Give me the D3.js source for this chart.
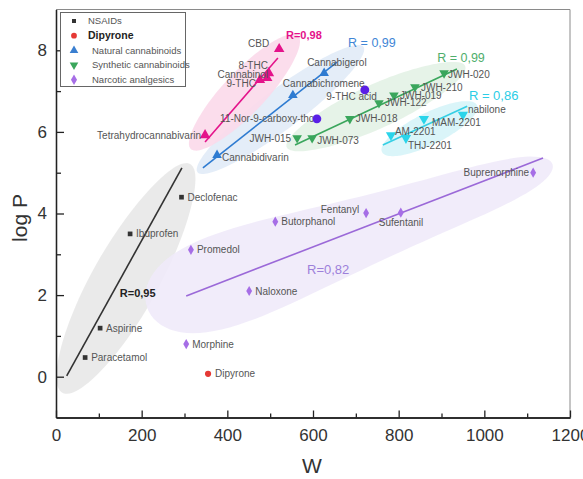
<!DOCTYPE html>
<html lang="en">
<head>
<meta charset="utf-8">
<title>log P vs W</title>
<script src="https://cdn.jsdelivr.net/npm/d3@7"></script>
<style>
  body { margin: 0; background: #fff; }
  svg text { font-family: "Liberation Sans", Arial, sans-serif; }
  .axis path, .axis line { stroke: #222; stroke-width: 1.3; }
  .axis text { font-size: 17px; fill: #333; }
  .lbl { font-size: 10px; fill: #555; }
</style>
</head>
<body>
<div id="chart"></div>
<script>
// ---- data ----
var nsaidNames = ["Paracetamol", "Aspirine", "Ibuprofen", "Declofenac"];
var nsaidW     = [68, 103, 173, 293];
var nsaidLogP  = [0.47, 1.19, 3.5, 4.40];

var dipyroneNames = ["Dipyrone"];
var dipyroneW     = [355];
var dipyroneLogP  = [0.07];

var narcNames = ["Morphine", "Naloxone", "Promedol", "Butorphanol", "Fentanyl", "Sufentanil", "Buprenorphine"];
var narcW     = [304, 451, 315, 512, 724, 805, 1114];
var narcLogP  = [0.80, 2.10, 3.11, 3.80, 4.01, 4.02, 5.0];

var pinkNames = ["Tetrahydrocannabivarin", "9-THC", "Cannabinol", "8-THC", "CBD"];
var pinkW     = [348, 476, 493, 497, 521];
var pinkLogP  = [5.92, 7.27, 7.32, 7.44, 8.03];

var natNames = ["Cannabidivarin", "Cannabichromene", "Cannabigerol"];
var natW     = [376, 553, 626];
var natLogP  = [5.43, 6.9, 7.44];

var acidNames = ["11-Nor-9-carboxy-thc", "9-THC acid"];
var acidW     = [609, 721];
var acidLogP  = [6.32, 7.03];

var synNames = ["JWH-015", "JWH-073", "JWH-018", "JWH-122", "JWH-019", "JWH-210", "JWH-020"];
var synW     = [563, 598, 686, 754, 789, 838, 906];
var synLogP  = [5.85, 5.85, 6.32, 6.71, 6.90, 7.10, 7.44];

var cyanNames = ["AM-2201", "THJ-2201", "MAM-2201", "nabilone"];
var cyanW     = [782, 817, 859, 950];
var cyanLogP  = [5.92, 5.85, 6.32, 6.42];

// fitted lines: start / end (W, logP) and R
var fitKeys = ["nsaid", "narc", "pink", "nat", "syn", "cyan"];
var fitW0   = [25, 304, 348, 343, 558, 763];
var fitP0   = [0.02, 1.98, 5.75, 5.12, 5.68, 5.68];
var fitW1   = [294, 1137, 518, 656, 936, 960];
var fitP1   = [5.12, 5.36, 7.81, 7.71, 7.54, 6.63];
var fitR    = ["R=0,95", "R=0,82", "R=0,98", "R = 0,99", "R = 0,99", "R = 0,86"];

var legendNames = ["NSAIDs", "Dipyrone", "Natural cannabinoids", "Synthetic cannabinoids", "Narcotic analgesics"];

var xTicks = [0, 200, 400, 600, 800, 1000, 1200];
var xMinor = [100, 300, 500, 700, 900, 1100];
var yTicks = [0, 2, 4, 6, 8];
var yMinor = [1, 3, 5, 7];

// ---- layout ----
var w = 583, h = 479;
var svg = d3.select("#chart").append("svg").attr("width", w).attr("height", h);

var xScale = d3.scaleLinear().domain([0, 1200]).range([56, 570]);
var yScale = d3.scaleLinear().domain([-1, 9]).range([417.5, 9.5]);

var groups = {
  nsaid: {names: nsaidNames, w: nsaidW, p: nsaidLogP, sym: d3.symbolSquare, size: 22, color: "#333", line: "#333", rColor: "#222", rSize: 11, rWeight: "bold", blob: "#e8e8e8"},
  dip:   {names: dipyroneNames, w: dipyroneW, p: dipyroneLogP, sym: d3.symbolCircle, size: 30, color: "#e53935"},
  narc:  {names: narcNames, w: narcW, p: narcLogP, sym: d3.symbolDiamond, size: 30, color: "#a66ee6", line: "#9b69d8", rColor: "#9d80da", rSize: 13, rWeight: "normal", blob: "#efeafa"},
  pink:  {names: pinkNames, w: pinkW, p: pinkLogP, sym: d3.symbolTriangle, size: 48, color: "#e4138a", line: "#e4138a", rColor: "#e4138a", rSize: 11, rWeight: "bold", blob: "#fbd9ea"},
  nat:   {names: natNames, w: natW, p: natLogP, sym: d3.symbolTriangle, size: 40, color: "#2e7bd1", line: "#2e7bd1", rColor: "#3f86d6", rSize: 12.5, rWeight: "normal", blob: "#e1ebf7"},
  acid:  {names: acidNames, w: acidW, p: acidLogP, sym: d3.symbolCircle, size: 62, color: "#5a1fe6"},
  syn:   {names: synNames, w: synW, p: synLogP, sym: d3.symbolTriangle, size: 40, color: "#3aa65c", line: "#3aa65c", down: true, rColor: "#4fae6c", rSize: 12.5, rWeight: "normal", blob: "#e3f2e6"},
  cyan:  {names: cyanNames, w: cyanW, p: cyanLogP, sym: d3.symbolTriangle, size: 45, color: "#2ad4ea", line: "#35cfe4", down: true, rColor: "#2ccde6", rSize: 13, rWeight: "normal", blob: "#d6f4f8"}
};

// highlight blobs: centre (W, logP), angle deg, half length px, half widths (left, mid, right) px
var blobs = {
  nsaid: [164, 2.41, -60.8, 131, 32, 33, 30],
  narc:  [686, 3.45, -19.5, 215, 83, 36, 38],
  pink:  [440, 6.97, -46.6, 78, 20, 21, 20],
  nat:   [524, 6.55, -37.1, 104, 19, 20, 19],
  syn:   [747, 6.62, -24.5, 98, 20, 22, 20],
  cyan:  [872, 6.08, -26.3, 53, 16, 16, 16]
};
var blobOrder = ["nsaid", "narc", "nat", "syn", "cyan", "pink"];

// R label anchor (W, logP)
var rLabelAt = {
  nsaid: [149, 2.05], narc: [586, 2.62], pink: [537, 8.37],
  nat: [682, 8.20], syn: [890, 7.82], cyan: [964, 6.90]
};

// name label offsets [dx, dy, anchor]; default is right of the marker
var labelOffsets = {
  "Dipyrone": [7, 3.5, "start"],
  "Fentanyl": [-7, -0.5, "end"],
  "Sufentanil": [-22, 13.8, "start"],
  "Buprenorphine": [-4, 3.5, "end"],
  "CBD": [-10, -2.5, "end"],
  "8-THC": [-1, -4.5, "end"],
  "Cannabinol": [1, -0.5, "end"],
  "9-THC": [-4, 6.5, "end"],
  "Tetrahydrocannabivarin": [-4, 3.5, "end"],
  "Cannabigerol": [-17, -7.5, "start"],
  "Cannabichromene": [-10, -8.5, "start"],
  "Cannabidivarin": [5, 5.5, "start"],
  "9-THC acid": [12, 10.5, "end"],
  "11-Nor-9-carboxy-thc": [-3, 3.5, "end"],
  "JWH-015": [-6, 3.5, "end"],
  "JWH-073": [5, 5.5, "start"],
  "JWH-020": [4, 4.5, "start"],
  "AM-2201": [4, -0.5, "start"],
  "THJ-2201": [2, 10.5, "start"],
  "MAM-2201": [8, 7.5, "start"],
  "nabilone": [5, -1.5, "start"]
};

function blobPath(b) {
  var cx = xScale(b[0]), cy = yScale(b[1]);
  var th = b[2] * Math.PI / 180, a = b[3];
  var bL = b[4], bM = b[5], bR = b[6];
  var pts = [];
  for (var i = 0; i < 120; i++) {
    var t = 2 * Math.PI * i / 120;
    var u = a * Math.cos(t);
    var f = (u / a + 1) / 2;
    var hw = bL * 2 * (f - 0.5) * (f - 1) - bM * 4 * f * (f - 1) + bR * 2 * f * (f - 0.5);
    var v = hw * Math.sin(t);
    pts.push([cx + u * Math.cos(th) - v * Math.sin(th), cy + u * Math.sin(th) + v * Math.cos(th)]);
  }
  return d3.line().curve(d3.curveLinearClosed)(pts);
}

// blobs
svg.append("g").selectAll("path")
  .data(blobOrder)
  .enter()
  .append("path")
  .attr("d", function(k) { return blobPath(blobs[k]) })
  .style("fill", function(k) { return groups[k].blob })
  .style("opacity", 0.9);

// fit lines
var fits = fitKeys.map(function(k, i) {
  return {key: k, w0: fitW0[i], p0: fitP0[i], w1: fitW1[i], p1: fitP1[i], r: fitR[i]};
});
svg.append("g").selectAll("line")
  .data(fits)
  .enter()
  .append("line")
  .attr("x1", function(d) { return xScale(d.w0) })
  .attr("y1", function(d) { return yScale(d.p0) })
  .attr("x2", function(d) { return xScale(d.w1) })
  .attr("y2", function(d) { return yScale(d.p1) })
  .style("stroke", function(d) { return groups[d.key].line })
  .style("stroke-width", 1.6);

// points + labels
var pointKeys = ["nsaid", "dip", "narc", "pink", "nat", "acid", "syn", "cyan"];
var points = [];
pointKeys.forEach(function(k) {
  var g = groups[k];
  g.names.forEach(function(n, i) {
    points.push({key: k, name: n, w: g.w[i], p: g.p[i]});
  });
});

svg.append("g").selectAll("path")
  .data(points)
  .enter()
  .append("path")
  .attr("d", function(d) { return d3.symbol().type(groups[d.key].sym).size(groups[d.key].size)() })
  .attr("transform", function(d) {
    var t = "translate(" + xScale(d.w) + "," + yScale(d.p) + ")";
    if (groups[d.key].down) t += " rotate(180)";
    return t;
  })
  .style("fill", function(d) { return groups[d.key].color });

svg.append("g").selectAll("text")
  .data(points)
  .enter()
  .append("text")
  .attr("class", "lbl")
  .attr("x", function(d) { var o = labelOffsets[d.name] || [6, 3.5, "start"]; return xScale(d.w) + o[0] })
  .attr("y", function(d) { var o = labelOffsets[d.name] || [6, 3.5, "start"]; return yScale(d.p) + o[1] })
  .attr("text-anchor", function(d) { var o = labelOffsets[d.name] || [6, 3.5, "start"]; return o[2] })
  .text(function(d) { return d.name });

// R labels
svg.append("g").selectAll("text")
  .data(fits)
  .enter()
  .append("text")
  .attr("x", function(d) { return xScale(rLabelAt[d.key][0]) })
  .attr("y", function(d) { return yScale(rLabelAt[d.key][1]) })
  .attr("dy", "0.35em")
  .style("fill", function(d) { return groups[d.key].rColor })
  .style("font-size", function(d) { return groups[d.key].rSize + "px" })
  .style("font-weight", function(d) { return groups[d.key].rWeight })
  .text(function(d) { return d.r });

// frame (top / right)
svg.append("path")
  .attr("d", "M" + xScale(0) + "," + yScale(9) + "H" + xScale(1200) + "V" + yScale(-1))
  .style("fill", "none")
  .style("stroke", "#8a8a8a")
  .style("stroke-width", 1);

// axes
var xAxis = d3.axisBottom(xScale).tickValues(xTicks).tickSizeInner(-7).tickSizeOuter(0).tickPadding(11).tickFormat(d3.format("d"));
var xAxisMinor = d3.axisBottom(xScale).tickValues(xMinor).tickSizeInner(-4).tickSizeOuter(0).tickFormat("");
var yAxis = d3.axisLeft(yScale).tickValues(yTicks).tickSizeInner(-8).tickSizeOuter(0).tickPadding(9).tickFormat(d3.format("d"));
var yAxisMinor = d3.axisLeft(yScale).tickValues(yMinor).tickSizeInner(-5).tickSizeOuter(0).tickFormat("");

svg.append("g").attr("class", "axis").attr("transform", "translate(0," + yScale(-1) + ")").call(xAxisMinor);
svg.append("g").attr("class", "axis").attr("transform", "translate(0," + yScale(-1) + ")").call(xAxis);
svg.append("g").attr("class", "axis").attr("transform", "translate(" + xScale(0) + ",0)").call(yAxisMinor);
svg.append("g").attr("class", "axis").attr("transform", "translate(" + xScale(0) + ",0)").call(yAxis);

svg.append("text")
  .attr("x", 312).attr("y", 466)
  .attr("dy", "0.35em")
  .attr("text-anchor", "middle")
  .style("font-size", "21px").style("fill", "#333")
  .text("W");

svg.append("text")
  .attr("transform", "translate(20,218) rotate(-90)")
  .attr("dy", "0.35em")
  .attr("text-anchor", "middle")
  .style("font-size", "21px").style("fill", "#333")
  .text("log P");

// legend
var legendKeys = ["nsaid", "dip", "nat", "syn", "narc"];
var legend = svg.append("g");
legend.append("rect")
  .attr("x", 60.5).attr("y", 12.5).attr("width", 125).attr("height", 74)
  .style("fill", "#fff").style("stroke", "#666").style("stroke-width", 1);
var li = legend.selectAll("g.item")
  .data(legendNames)
  .enter()
  .append("g")
  .attr("class", "item")
  .attr("transform", function(d, i) { return "translate(74," + (21 + i * 14.7) + ")" });
li.append("path")
  .attr("d", function(d, i) {
    var g = groups[legendKeys[i]];
    var s = g.sym === d3.symbolCircle ? 26 : (g.sym === d3.symbolSquare ? 16 : 32);
    return d3.symbol().type(g.sym).size(s)();
  })
  .attr("transform", function(d, i) { return groups[legendKeys[i]].down ? "rotate(180)" : null })
  .style("fill", function(d, i) { return i === 2 ? "#3a7fd0" : groups[legendKeys[i]].color });
li.append("text")
  .attr("x", function(d, i) { return i < 2 ? 14 : 18 })
  .attr("dy", "0.35em")
  .style("font-size", function(d, i) { return i === 1 ? "10.5px" : "9.5px" })
  .style("font-weight", function(d, i) { return i === 1 ? "bold" : "normal" })
  .style("fill", function(d, i) { return i === 1 ? "#222" : "#555" })
  .text(function(d) { return d });
</script>
</body>
</html>
